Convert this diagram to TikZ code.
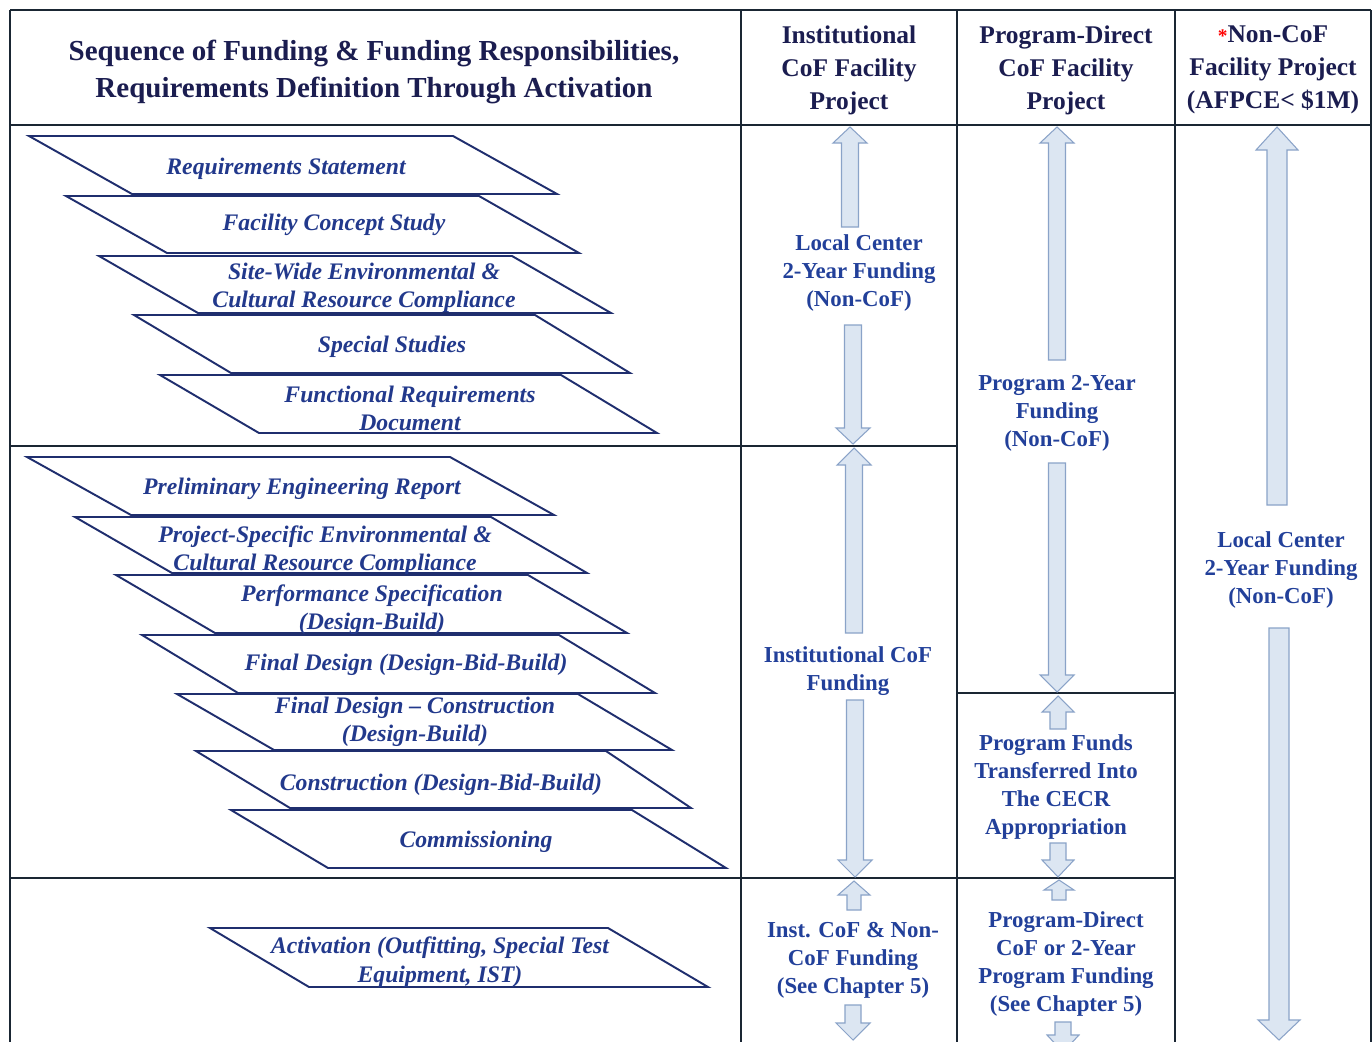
\documentclass[tikz,border=0pt]{standalone}
\usepackage{fontspec}
\setmainfont{Liberation Serif}
\usetikzlibrary{calc}
\definecolor{gridc}{HTML}{1A2633}
\definecolor{parac}{HTML}{1F2E6E}
\definecolor{paratext}{HTML}{22398C}
\definecolor{titlec}{HTML}{1B1D50}
\definecolor{fundc}{HTML}{22409A}
\definecolor{arrfill}{HTML}{DCE6F2}
\definecolor{arrline}{HTML}{8AA3C8}
\tikzset{
  gridline/.style={draw=gridc, line width=1.4pt},
  parashape/.style={draw=parac, line width=1.1pt, fill=white, line join=miter},
  paratxt/.style={text=paratext, font=\fontsize{13.5}{16}\selectfont\bfseries\itshape, align=center, inner sep=0pt, yshift=-1.2pt},
  titletxt/.style={text=titlec, font=\fontsize{16.5}{21.6}\selectfont\bfseries, align=center, inner sep=0pt, yshift=-1.7pt},
  headtxt/.style={text=titlec, font=\fontsize{14.5}{18.8}\selectfont\bfseries, align=center, inner sep=0pt, yshift=-1.2pt},
  fundtxt/.style={text=fundc, font=\fontsize{13}{15.9}\selectfont\bfseries, align=center, inner sep=0pt, yshift=-1.2pt},
  blockarrow/.style={fill=arrfill, draw=arrline, line width=0.6pt, line join=miter},
}
% x, tip y, head-base y, shaft-end y, shaft half width, head half width
\newcommand\barrow[6]{%
  \draw[blockarrow] (#1,#2) -- (#1+#6,#3) -- (#1+#5,#3) -- (#1+#5,#4) -- (#1-#5,#4) -- (#1-#5,#3) -- (#1-#6,#3) -- cycle;}
\begin{document}
\begin{tikzpicture}[x=0.02cm, y=-0.02cm]
\useasboundingbox (0,0) rectangle (1372,1041);
\fill[white] (0,0) rectangle (1372,1041);
\clip (0,0) rectangle (1372,1041);

% ---------- table grid ----------
\draw[gridline] (10,10) -- (1371,10);
\draw[gridline] (10,10) -- (10,1045);
\draw[gridline] (1371,10) -- (1371,1045);
\draw[gridline] (10,125) -- (1371,125);
\draw[gridline] (741,10) -- (741,1045);
\draw[gridline] (957,10) -- (957,1045);
\draw[gridline] (1175,10) -- (1175,1045);
\draw[gridline] (10,446) -- (957,446);
\draw[gridline] (957,693) -- (1175,693);
\draw[gridline] (10,878) -- (1175,878);

% ---------- headers ----------
\node[titletxt] (title) at (374,69) {Sequence of Funding \& Funding Responsibilities,\\Requirements Definition Through Activation};
\node[headtxt] (h1) at (849,68) {Institutional\\CoF Facility\\Project};
\node[headtxt] (h2) at (1066,68) {Program-Direct\\CoF Facility\\Project};
\node[headtxt] (h3) at (1273,68) {{\color{red}\fontsize{11}{11}\selectfont *}Non-CoF\\Facility Project\\(AFPCE< \$1M)};

% ---------- group 1 parallelograms ----------
\draw[parashape] (29,136) -- (453,136) -- (557,194) -- (132,194) -- cycle;
\node[paratxt] (p1) at (286,167) {Requirements Statement};
\draw[parashape] (66,196) -- (479,196) -- (579,253) -- (167,253) -- cycle;
\node[paratxt] (p2) at (334,223) {Facility Concept Study};
\draw[parashape] (99,256) -- (512,256) -- (611,313) -- (198,313) -- cycle;
\node[paratxt] (p3) at (364,286) {Site-Wide Environmental \&\\Cultural Resource Compliance};
\draw[parashape] (134,315) -- (535,315) -- (630,373) -- (231,373) -- cycle;
\node[paratxt] (p4) at (392,345) {Special Studies};
\draw[parashape] (160,375) -- (561,375) -- (657,433) -- (259,433) -- cycle;
\node[paratxt] (p5) at (410,406) {Functional Requirements\\Document};

% ---------- group 2 parallelograms ----------
\draw[parashape] (27,457) -- (450,457) -- (554,515) -- (131,515) -- cycle;
\node[paratxt] (q1) at (302,487) {Preliminary Engineering Report};
\draw[parashape] (75,517) -- (491,517) -- (587,573) -- (172,573) -- cycle;
\node[paratxt] (q2) at (325,549) {Project-Specific Environmental \&\\Cultural Resource Compliance};
\draw[parashape] (116,575) -- (528,575) -- (627,633) -- (215,633) -- cycle;
\node[paratxt] (q3) at (372,608) {Performance Specification\\(Design-Build)};
\draw[parashape] (142,635) -- (559,635) -- (655,693) -- (238,693) -- cycle;
\node[paratxt] (q4) at (406,663) {Final Design (Design-Bid-Build)};
\draw[parashape] (177,694) -- (578,694) -- (672,750) -- (274,750) -- cycle;
\node[paratxt] (q5) at (415,720) {Final Design -- Construction\\(Design-Build)};
\draw[parashape] (196,751) -- (606,751) -- (691,808) -- (290,808) -- cycle;
\node[paratxt] (q6) at (441,783) {Construction (Design-Bid-Build)};
\draw[parashape] (231,810) -- (632,810) -- (726,868) -- (328,868) -- cycle;
\node[paratxt] (q7) at (476,840) {Commissioning};

% ---------- activation ----------
\draw[parashape] (210,928) -- (608,928) -- (708,987) -- (309,987) -- cycle;
\node[paratxt] (r1) at (440,960) {Activation (Outfitting, Special Test\\Equipment, IST)};

% ---------- column 1 arrows and labels ----------
\barrow{850}{127}{143}{227}{8.5}{17}
\node[fundtxt] (f1) at (859,271) {Local Center\\2-Year Funding\\(Non-CoF)};
\barrow{853}{444}{428}{325}{8.5}{17}
\barrow{854}{448}{465}{633}{8.5}{17}
\node[fundtxt] (f2) at (848,669) {Institutional CoF\\Funding};
\barrow{855}{877}{860}{700}{8.5}{17}
\barrow{854}{881}{895}{910}{7}{16}
\node[fundtxt] (f3) at (853,958) {Inst. CoF \& Non-\\CoF Funding\\(See Chapter 5)};
\barrow{853}{1040}{1023}{1005}{8}{17}

% ---------- column 2 arrows and labels ----------
\barrow{1057}{127}{143}{360}{8.5}{17}
\node[fundtxt] (g1) at (1057,411) {Program 2-Year\\Funding\\(Non-CoF)};
\barrow{1057}{692}{675}{463}{8.5}{17}
\barrow{1058}{696}{712}{729}{8}{16}
\node[fundtxt] (g2) at (1056,785) {Program Funds\\Transferred Into\\The CECR\\Appropriation};
\barrow{1058}{877}{860}{843}{8}{16}
\barrow{1059}{880}{890}{900}{7}{15}
\node[fundtxt] (g3) at (1066,962) {Program-Direct\\CoF or 2-Year\\Program Funding\\(See Chapter 5)};
\barrow{1063}{1052}{1035}{1022}{8}{16}

% ---------- column 3 arrows and labels ----------
\barrow{1277}{127}{150}{505}{10}{21}
\node[fundtxt] (k1) at (1281,568) {Local Center\\2-Year Funding\\(Non-CoF)};
\barrow{1279}{1040}{1020}{628}{10}{21}
\end{tikzpicture}
\end{document}
